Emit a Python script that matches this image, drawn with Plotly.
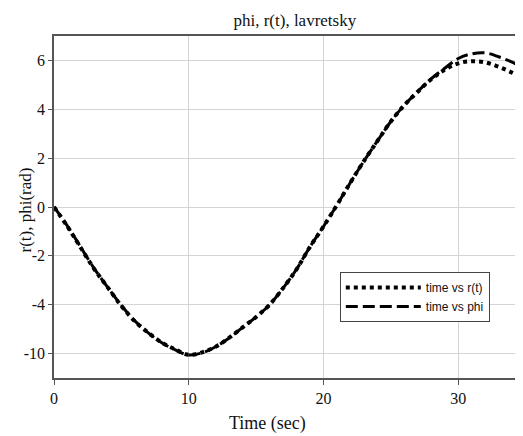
import plotly.graph_objects as go

time_sec = [0, 1, 2, 3, 4, 5, 6, 7, 8, 9, 10, 11, 12, 13, 14, 15, 16, 17,
            18, 19, 20, 21, 22, 23, 24, 25, 26, 27, 28, 29, 30, 31, 32, 33, 34, 35]
r_t = [0, -0.8, -1.68, -2.55, -3.3, -4.05, -4.68, -5.15, -5.55, -5.83, -6.05,
       -5.95, -5.72, -5.35, -4.93, -4.5, -4.0, -3.32, -2.55, -1.63, -0.8, 0.08,
       1.0, 1.88, 2.7, 3.5, 4.17, 4.72, 5.23, 5.62, 5.88, 5.97, 5.92, 5.74, 5.5, 5.2]
phi = [0, -0.78, -1.66, -2.53, -3.3, -4.03, -4.66, -5.15, -5.56, -5.85, -6.06,
       -5.97, -5.72, -5.36, -4.93, -4.5, -4.0, -3.32, -2.55, -1.63, -0.8, 0.08,
       1.0, 1.88, 2.7, 3.5, 4.17, 4.73, 5.25, 5.68, 6.08, 6.27, 6.31, 6.15, 5.93, 5.65]

x_ticks = [0, 10, 20, 30]
y_tick_vals = [-6, -4, -2, 0, 2, 4, 6]
y_tick_text = ["-10", "-4", "-2", "0", "2", "4", "6"]

SERIF = "Liberation Serif, Times New Roman, serif"
SANS = "Liberation Sans, Arial, sans-serif"

fig = go.Figure()
fig.add_trace(go.Scatter(
    x=time_sec, y=phi, mode="lines", name="time vs phi",
    line=dict(color="black", width=3, dash="12px,5px", shape="spline"),
))
fig.add_trace(go.Scatter(
    x=time_sec, y=r_t, mode="lines", name="time vs r(t)",
    line=dict(color="black", width=4, dash="4px,4px", shape="spline"),
))

fig.update_layout(
    width=515, height=428,
    margin=dict(l=46, r=0, t=28, b=58),
    paper_bgcolor="white", plot_bgcolor="white",
    font=dict(family=SERIF, size=14, color="#111"),
    showlegend=True,
    legend=dict(
        x=0.612, y=0.31, xanchor="left", yanchor="top",
        bgcolor="white", bordercolor="#444", borderwidth=1,
        font=dict(family=SANS, size=12, color="#111"),
        traceorder="reversed",
        itemwidth=75,
        entrywidth=158, entrywidthmode="pixels",
    ),
    title=dict(text="phi, r(t), lavretsky", x=0.557, xref="container",
               y=0.972, yref="container", xanchor="center", yanchor="middle",
               font=dict(family=SERIF, size=17, color="#111")),
    annotations=[
        dict(text="Time (sec)", xref="paper", yref="paper", x=0.458, y=-0.132,
             xanchor="center", yanchor="middle", showarrow=False,
             font=dict(family=SERIF, size=18, color="#111")),
        dict(text="r(t), phi(rad)", xref="paper", yref="paper", x=-0.062, y=0.49,
             xanchor="center", yanchor="middle", showarrow=False, textangle=-90,
             font=dict(family=SERIF, size=17, color="#111")),
    ],
)
fig.update_xaxes(
    range=[0, 34.66], tickvals=x_ticks, showgrid=True, gridcolor="#d4d4d4", gridwidth=1,
    showline=True, linecolor="#555", linewidth=1.5, mirror=True,
    ticks="outside", ticklen=5, tickcolor="#555", zeroline=False,
    tickfont=dict(family=SERIF, size=16, color="#111"),
)
fig.update_yaxes(
    range=[-7, 7], tickvals=y_tick_vals, ticktext=y_tick_text,
    showgrid=True, gridcolor="#d4d4d4", gridwidth=1,
    showline=True, linecolor="#555", linewidth=1.5, mirror=True,
    ticks="outside", ticklen=4, tickcolor="#555", zeroline=False,
    tickfont=dict(family=SERIF, size=16, color="#111"),
)

fig.write_html("out.html")
